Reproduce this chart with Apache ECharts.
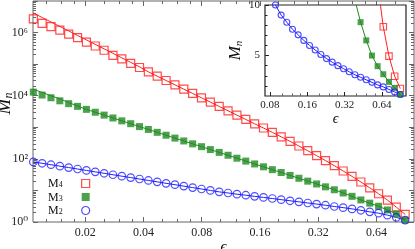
<!DOCTYPE html>
<html><head><meta charset="utf-8">
<script src="https://cdn.jsdelivr.net/npm/echarts@6/dist/echarts.min.js"></script>
<style>html,body{margin:0;padding:0;background:#fff}#c{width:415px;height:249px}</style>
</head><body><div id="c"></div>
<script>
// ---- data (epsilon sample points and moments M_n) ----
const eps = [0.01078, 0.01197, 0.01330, 0.01478, 0.01642, 0.01825, 0.02028, 0.02253, 0.02503, 0.02781, 0.03090, 0.03434, 0.03815, 0.04239, 0.04710, 0.05233, 0.05815, 0.06461, 0.07179, 0.07977, 0.08863, 0.09848, 0.1094, 0.1216, 0.1351, 0.1501, 0.1668, 0.1853, 0.2059, 0.2288, 0.2542, 0.2824, 0.3138, 0.3487, 0.3874, 0.4305, 0.4783, 0.5314, 0.5905, 0.6561, 0.729, 0.81, 0.9];
const M4 = [2.7e6, 1.95e6, 1.55e6, 1.2e6, 8.9e5, 6.9e5, 5.0e5, 3.75e5, 2.75e5, 1.9e5, 1.47e5, 1.06e5, 7.82e4, 5.7e4, 4.16e4, 3.03e4, 2.21e4, 1.61e4, 1.18e4, 8590, 6270, 4570, 3330, 2430, 1770, 1290, 948, 690, 499, 358, 255, 181, 127, 88.1, 60.7, 41.3, 27.8, 18.5, 12.1, 7.85, 4.94, 2.96, 1.74];
const M4fit = [4.17e6, 3.0e6, 2.17e6, 1.56e6, 1.13e6, 8.1e5, 5.86e5, 4.23e5, 3.05e5, 2.2e5, 1.58e5, 1.14e5, 8.2e4, 5.7e4, 4.16e4, 3.03e4, 2.21e4, 1.61e4, 1.18e4, 8590, 6270, 4570, 3330, 2430, 1770, 1290, 948, 690, 499, 358, 255, 181, 127, 88.1, 60.7, 41.3, 27.8, 18.5, 12.1, 7.85, 4.94, 2.96, 1.74];
const M3 = [13000, 10500, 8600, 6900, 5600, 4600, 3700, 3000, 2430, 1970, 1600, 1300, 1050, 853, 692, 561, 455, 369, 299, 243, 197, 160, 130, 105, 85, 69, 56, 45.5, 36.9, 29.9, 24.3, 19.7, 16.0, 13.0, 10.5, 8.3, 6.5, 5.0, 3.95, 3.15, 2.4, 1.8, 1.15];
const M3fit = [16000, 12700, 10000, 7900, 6100, 4700, 3700, 3000, 2430, 1970, 1600, 1300, 1050, 853, 692, 561, 455, 369, 299, 243, 197, 160, 130, 105, 85, 69, 56, 45.5, 36.9, 29.9, 24.3, 19.7, 16.0, 13.0, 10.5, 8.3, 6.5, 5.0, 3.95, 3.15, 2.4, 1.8, 1.15];
const M2 = [80, 72.4, 65.2, 58.8, 52.9, 47.7, 43.0, 38.7, 34.9, 31.4, 28.3, 25.5, 23.0, 20.7, 18.7, 16.8, 15.2, 13.7, 12.3, 11.1, 10.0, 9.0, 8.3, 7.6, 7.05, 6.5, 6.0, 5.55, 5.1, 4.7, 4.35, 4.0, 3.7, 3.4, 3.1, 2.85, 2.6, 2.35, 2.1, 1.9, 1.65, 1.4, 1.15];
const seriesNames = ['M4', 'M3', 'M2'];

// ---- ticks ----
const xTicks = [0.02, 0.04, 0.08, 0.16, 0.32, 0.64];
const xTickLabels = ['0.02', '0.04', '0.08', '0.16', '0.32', '0.64'];
const xMinor = [0.0125, 0.015, 0.0175, 0.025, 0.03, 0.035, 0.05, 0.06, 0.07, 0.1, 0.12, 0.14, 0.2, 0.24, 0.28, 0.4, 0.48, 0.56, 0.8];
const yTicks = [1, 1e2, 1e4, 1e6];
const yTickLabels = ['10⁰', '10²', '10⁴', '10⁶'];
const yDecades = [1, 10, 1e2, 1e3, 1e4, 1e5, 1e6, 1e7];
const yMinor = yDecades.flatMap(d => [2, 3, 4, 5, 6, 7, 8, 9].map(m => m * d));
const inXTicks = [0.08, 0.16, 0.32, 0.64];
const inXLabels = ['0.08', '0.16', '0.32', '0.64'];
const inXMinor = [0.1, 0.12, 0.14, 0.2, 0.24, 0.28, 0.4, 0.48, 0.56, 0.8];
const inYTicks = [5, 10];
const inYLabels = ['5', '10'];
const inYMinor = [2, 3, 4, 6, 7, 8, 9];

const X_MIN = 0.01074, X_MAX = 1.0;
const IN_X_MIN = 0.073, IN_X_MAX = 1.0;
const FONT = "'Liberation Serif','DejaVu Serif',serif";
const AX = '#666';
const RED = '#ff1e1e', GREEN = '#1f8b1f', BLUE = '#2020ff';

const pairs = arr => eps.map((e, i) => [e, arr[i]]);
const nearestLabel = (v, ticks, labels) => {
  let best = 0, bd = Infinity;
  ticks.forEach((t, i) => { const d = Math.abs(Math.log(v / t)); if (d < bd) { bd = d; best = i; } });
  return labels[best];
};

function tickOnly(gridIndex, position, min, max, ticks, len, z) {
  return {
    gridIndex, type: 'log', logBase: 10, min, max, position, z,
    axisLine: { show: false }, splitLine: { show: false },
    axisTick: { show: true, inside: true, length: len, customValues: ticks, lineStyle: { color: AX, width: 1 } },
    axisLabel: { show: false }
  };
}

const chart = echarts.init(document.getElementById('c'), null, { renderer: 'canvas' });
const option = {
  animation: false,
  backgroundColor: '#fff',
  grid: [
    { left: 33, right: 1, top: 1, bottom: 27, containLabel: false, outerBoundsMode: 'none', show: true, borderColor: AX, borderWidth: 1, backgroundColor: 'transparent' },
    { left: 265, right: 9, top: 5, bottom: 153, containLabel: false, outerBoundsMode: 'none', show: true, borderColor: '#222', borderWidth: 1.2, backgroundColor: '#fff', z: 10 }
  ],
  legend: {
    data: [
      { name: 'M4', itemStyle: { color: 'rgba(0,0,0,0)', borderColor: RED, borderWidth: 1.2 } },
      { name: 'M3', itemStyle: { color: GREEN } },
      { name: 'M2', icon: 'circle', itemStyle: { color: 'rgba(0,0,0,0)', borderColor: BLUE, borderWidth: 1.2 } }
    ],
    orient: 'vertical', left: 43, top: 173, align: 'right', itemWidth: 8, itemHeight: 8, itemGap: 1.5,
    selectedMode: false,
    formatter: n => '{b|M}{s|' + n.slice(1) + '}',
    textStyle: {
      padding: [0, 14, 0, 0],
      rich: {
        b: { fontFamily: FONT, fontSize: 12, lineHeight: 11, verticalAlign: 'top', color: '#111' },
        s: { fontFamily: FONT, fontSize: 8, lineHeight: 4, verticalAlign: 'bottom', color: '#111' }
      }
    }
  },
  xAxis: [
    {
      gridIndex: 0, type: 'log', logBase: 10, min: X_MIN, max: X_MAX, position: 'bottom',
      axisLine: { show: false }, splitLine: { show: false },
      axisTick: { show: true, inside: true, length: 5, customValues: xTicks, lineStyle: { color: AX } },
      axisLabel: { customValues: xTicks, formatter: v => nearestLabel(v, xTicks, xTickLabels), fontFamily: FONT, fontSize: 12, color: '#222', margin: 5 },
      name: 'ϵ', nameLocation: 'middle', nameGap: 18, nameMoveOverlap: false,
      nameTextStyle: { fontFamily: FONT, fontStyle: 'italic', fontSize: 15, color: '#111' }
    },
    tickOnly(0, 'bottom', X_MIN, X_MAX, xMinor, 3, 0),
    tickOnly(0, 'top', X_MIN, X_MAX, xTicks, 5, 0),
    tickOnly(0, 'top', X_MIN, X_MAX, xMinor, 3, 0),
    {
      gridIndex: 1, type: 'log', logBase: 10, min: IN_X_MIN, max: IN_X_MAX, position: 'bottom', z: 11,
      axisLine: { show: false }, splitLine: { show: false },
      axisTick: { show: true, inside: true, length: 4, customValues: inXTicks, lineStyle: { color: '#222' } },
      axisLabel: { customValues: inXTicks, formatter: v => nearestLabel(v, inXTicks, inXLabels), fontFamily: FONT, fontSize: 11, color: '#222', margin: 4 },
      name: 'ϵ', nameLocation: 'middle', nameGap: 15,
      nameTextStyle: { fontFamily: FONT, fontStyle: 'italic', fontSize: 14, color: '#111' }
    },
    tickOnly(1, 'bottom', IN_X_MIN, IN_X_MAX, inXMinor, 2.5, 11)
  ],
  yAxis: [
    {
      gridIndex: 0, type: 'log', logBase: 10, min: 1, max: 1e7, position: 'left',
      axisLine: { show: false }, splitLine: { show: false },
      axisTick: { show: true, inside: true, length: 5, customValues: yDecades, lineStyle: { color: AX } },
      axisLabel: {
        customValues: yTicks, margin: 5, align: 'right',
        formatter: v => nearestLabel(v, yTicks, yTickLabels),
        fontFamily: FONT, fontSize: 12, color: '#222'
      },
      name: '{m|M}{n|n}', nameLocation: 'middle', nameRotate: 90, nameGap: 18, nameMoveOverlap: false,
      nameTextStyle: {
        padding: [0, 0, 0, 16],
        rich: {
          m: { fontFamily: FONT, fontStyle: 'italic', fontSize: 19, lineHeight: 20, verticalAlign: 'top', color: '#111' },
          n: { fontFamily: FONT, fontStyle: 'italic', fontSize: 12, lineHeight: 6, verticalAlign: 'bottom', color: '#111' }
        }
      }
    },
    tickOnly(0, 'left', 1, 1e7, yMinor, 3, 0),
    tickOnly(0, 'right', 1, 1e7, yDecades, 5, 0),
    tickOnly(0, 'right', 1, 1e7, yMinor, 3, 0),
    {
      gridIndex: 1, type: 'value', min: 1, max: 10, position: 'left', z: 11,
      axisLine: { show: false }, splitLine: { show: false },
      axisTick: { show: true, inside: true, length: 4, customValues: inYTicks, lineStyle: { color: '#222' } },
      axisLabel: { customValues: inYTicks, formatter: v => nearestLabel(v, inYTicks, inYLabels), fontFamily: FONT, fontSize: 11, color: '#222', margin: 5 },
      name: '{m|M}{n|n}', nameLocation: 'middle', nameRotate: 90, nameGap: 12,
      nameTextStyle: {
        rich: {
          m: { fontFamily: FONT, fontStyle: 'italic', fontSize: 17, lineHeight: 18, verticalAlign: 'top', color: '#111' },
          n: { fontFamily: FONT, fontStyle: 'italic', fontSize: 11, lineHeight: 5, verticalAlign: 'bottom', color: '#111' }
        }
      }
    },
    {
      gridIndex: 1, type: 'value', min: 1, max: 10, position: 'left', z: 11,
      axisLine: { show: false }, splitLine: { show: false },
      axisTick: { show: true, inside: true, length: 2.5, customValues: inYMinor, lineStyle: { color: '#222' } },
      axisLabel: { show: false }
    }
  ],
  series: [
    // main plot
    { name: 'M4 fit', type: 'line', xAxisIndex: 0, yAxisIndex: 0, data: pairs(M4fit), showSymbol: false, lineStyle: { color: RED, width: 1 }, z: 2 },
    { name: 'M4', type: 'scatter', xAxisIndex: 0, yAxisIndex: 0, data: pairs(M4), symbol: 'rect', symbolSize: 8, itemStyle: { color: 'rgba(0,0,0,0)', borderColor: RED, borderWidth: 1.2 }, z: 3 },
    { name: 'M3 fit', type: 'line', xAxisIndex: 0, yAxisIndex: 0, data: pairs(M3fit), showSymbol: false, lineStyle: { color: GREEN, width: 1 }, z: 2 },
    { name: 'M3', type: 'scatter', xAxisIndex: 0, yAxisIndex: 0, data: pairs(M3), symbol: 'rect', symbolSize: 7, itemStyle: { color: GREEN }, z: 3 },
    { name: 'M2 fit', type: 'line', xAxisIndex: 0, yAxisIndex: 0, data: pairs(M2), showSymbol: false, lineStyle: { color: BLUE, width: 1 }, z: 2 },
    { name: 'M2', type: 'scatter', xAxisIndex: 0, yAxisIndex: 0, data: pairs(M2), symbol: 'circle', symbolSize: 7.5, itemStyle: { color: 'rgba(0,0,0,0)', borderColor: BLUE, borderWidth: 1.2 }, z: 3 },
    // inset
    { name: 'M4 fit inset', type: 'line', xAxisIndex: 4, yAxisIndex: 4, data: pairs(M4fit), showSymbol: false, clip: true, lineStyle: { color: RED, width: 1 }, z: 12 },
    { name: 'M4 inset', type: 'scatter', xAxisIndex: 4, yAxisIndex: 4, data: pairs(M4), clip: true, symbol: 'rect', symbolSize: 6.5, itemStyle: { color: 'rgba(0,0,0,0)', borderColor: RED, borderWidth: 1.1 }, z: 13 },
    { name: 'M3 fit inset', type: 'line', xAxisIndex: 4, yAxisIndex: 4, data: pairs(M3fit), showSymbol: false, clip: true, lineStyle: { color: GREEN, width: 1 }, z: 12 },
    { name: 'M3 inset', type: 'scatter', xAxisIndex: 4, yAxisIndex: 4, data: pairs(M3), clip: true, symbol: 'rect', symbolSize: 6, itemStyle: { color: GREEN }, z: 13 },
    { name: 'M2 fit inset', type: 'line', xAxisIndex: 4, yAxisIndex: 4, data: pairs(M2), showSymbol: false, clip: true, lineStyle: { color: BLUE, width: 1 }, z: 12 },
    { name: 'M2 inset', type: 'scatter', xAxisIndex: 4, yAxisIndex: 4, data: pairs(M2), clip: true, symbol: 'circle', symbolSize: 6, itemStyle: { color: 'rgba(0,0,0,0)', borderColor: BLUE, borderWidth: 1.1 }, z: 13 }
  ]
};
chart.setOption(option);
</script>
</body></html>
